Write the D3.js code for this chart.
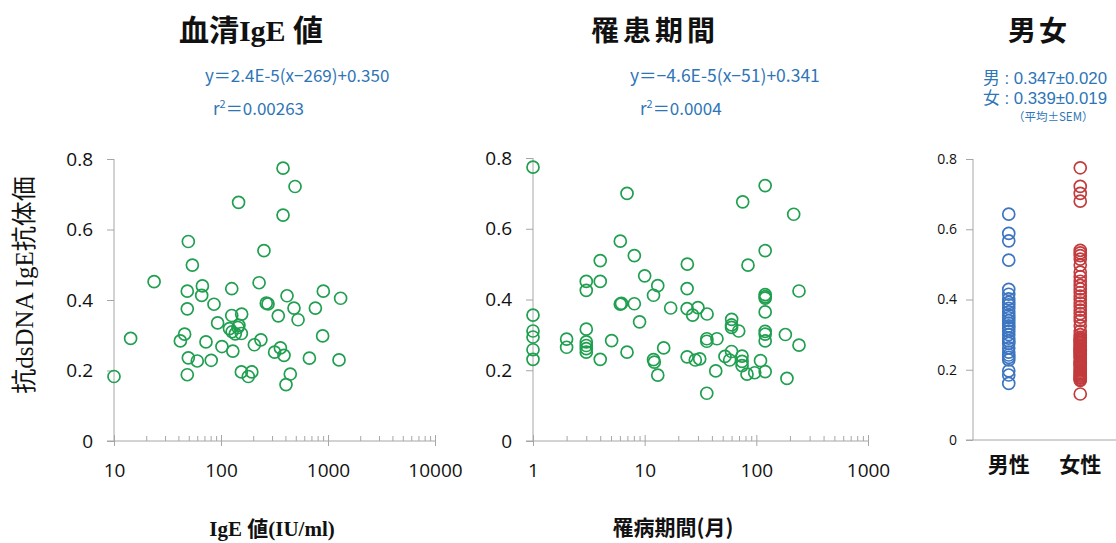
<html>
<head>
  <meta charset="utf-8">
  <title>抗dsDNA IgE抗体価</title>
  <style>
    body {
      margin: 0;
      padding: 0;
      background: #ffffff;
      overflow: hidden;
    }
    .cjk { font-family: 'Noto Sans CJK JP', sans-serif; }
    .serif { font-family: 'Liberation Serif', 'DejaVu Serif', serif; }
    .tick text { font-family: 'Open Sans', sans-serif; fill: #111; }
    .domain, .tick line { stroke: #a6a6a6; }
    .note { font-family: 'Noto Sans CJK JP', sans-serif; fill: #2e75b6; }
    .note2 { font-family: 'Liberation Sans', 'Noto Sans CJK JP', sans-serif; fill: #2e75b6; }
  </style>
  <script src="https://d3js.org/d3.v7.min.js"></script>
</head>
<body>
  <svg id="chart" width="1116" height="543"></svg>

  <script>
    // panel 1: serum IgE (IU/ml) vs anti-dsDNA IgE
    const igeX = [380, 492, 146, 380, 49.5, 252, 54, 23.7, 227, 67, 48.4, 126, 904, 66, 414, 1312, 86, 265, 275, 48.4, 481, 762,
      126, 156, 343, 525, 93, 147, 144, 120, 127, 136, 155, 45.7, 41.7, 14.3, 72.4, 236, 891, 102, 129, 205, 359, 317, 388, 49.5,
      60, 81, 670, 1268, 10, 48.4, 155, 194, 180, 444, 405];
    const igeY = [0.774, 0.722, 0.677, 0.641, 0.566, 0.540, 0.499, 0.452, 0.449, 0.440, 0.425, 0.432, 0.425, 0.413, 0.412, 0.405, 0.388, 0.391, 0.389, 0.375, 0.377, 0.377,
      0.356, 0.360, 0.355, 0.344, 0.335, 0.328, 0.322, 0.319, 0.310, 0.304, 0.305, 0.303, 0.284, 0.291, 0.281, 0.287, 0.298, 0.268, 0.255, 0.273, 0.264, 0.252, 0.243, 0.236,
      0.227, 0.229, 0.235, 0.230, 0.183, 0.188, 0.196, 0.196, 0.183, 0.190, 0.160];

    // panel 2: disease duration (months) vs anti-dsDNA IgE
    const durX = [1, 6.95, 120, 75.5, 216, 6.05, 120, 4.0, 8.08, 24.1, 84.2, 3, 3, 4, 10, 13.1, 12.0, 24, 241, 120, 120, 120, 6.05, 6.2, 8.08, 17.1, 24, 30, 36.2, 26.9, 60.1, 120, 1, 9.0,
      1, 1, 1, 1, 2, 2, 3, 3, 3, 3, 3, 4, 5.06, 6.95, 12, 12.2, 13.1, 14.8, 24, 28.4, 31.1, 36, 36, 44.4, 43.3, 36, 52.4, 60, 60, 69.5, 60, 57.7, 74.5, 74.5, 74.5,
      82.5, 96.7, 109, 120, 120, 120, 120, 182, 188, 241];
    const durY = [0.774, 0.700, 0.722, 0.676, 0.641, 0.565, 0.538, 0.510, 0.524, 0.500, 0.497, 0.451, 0.426, 0.451, 0.467, 0.439, 0.412, 0.431, 0.424, 0.414, 0.408, 0.404, 0.387, 0.389, 0.388, 0.376, 0.374, 0.377, 0.359, 0.356, 0.344, 0.365, 0.356, 0.337,
      0.311, 0.294, 0.258, 0.231, 0.288, 0.265, 0.316, 0.280, 0.270, 0.261, 0.251, 0.231, 0.284, 0.251, 0.230, 0.223, 0.186, 0.263, 0.238, 0.229, 0.232, 0.289, 0.282, 0.289, 0.198, 0.135, 0.239, 0.328, 0.321, 0.311, 0.253, 0.229, 0.240, 0.225, 0.213,
      0.189, 0.193, 0.227, 0.196, 0.310, 0.302, 0.283, 0.301, 0.177, 0.271];

    // panel 3: by sex
    const sexes = ['男性', '女性'];
    const maleVals = [0.643, 0.588, 0.567, 0.512, 0.429, 0.415, 0.402, 0.392, 0.385, 0.375, 0.365, 0.355, 0.348, 0.340, 0.333, 0.325,
      0.318, 0.310, 0.300, 0.290, 0.282, 0.275, 0.262, 0.250, 0.242, 0.235, 0.228, 0.197, 0.185, 0.161];
    const femaleVals = [0.775, 0.722, 0.702, 0.680, 0.540, 0.533, 0.525, 0.515, 0.498, 0.478, 0.465, 0.452, 0.440, 0.430, 0.420, 0.410,
      0.400, 0.390, 0.380, 0.370, 0.360, 0.350, 0.340, 0.325, 0.310, 0.300, 0.292, 0.288, 0.285, 0.282, 0.278, 0.274, 0.270, 0.266, 0.262,
      0.258, 0.255, 0.252, 0.248, 0.244, 0.240, 0.236, 0.232, 0.225, 0.222, 0.218, 0.214, 0.210, 0.205, 0.200, 0.196, 0.192, 0.188,
      0.185, 0.182, 0.178, 0.176, 0.172, 0.170, 0.131];

    const yTicks = [0, 0.2, 0.4, 0.6, 0.8];
    const igeTicks = [10, 100, 1000, 10000];
    const durTicks = [1, 10, 100, 1000];

    const svg = d3.select('#chart');

    // minor ticks 2..9 for each decade
    function logTicks(lo, hi) {
      const out = [];
      for (let d = lo; d < hi; d *= 10) {
        for (let k = 1; k < 10; k++) out.push(d * k);
      }
      out.push(hi);
      return out;
    }

    function yAxis(g, y, size) {
      g.call(d3.axisLeft(y).tickValues(yTicks).tickSize(7).tickPadding(size > 16 ? 14 : 9)
        .tickFormat(d => d === 0 ? '0' : d.toFixed(1)));
      g.selectAll('.tick text').attr('font-size', size);
      g.select('.domain').attr('d', `M0,${y(0)}V${y(0.8)}`);
    }

    function logXAxis(g, x, lo, hi, majors) {
      g.call(d3.axisBottom(x).tickValues(logTicks(lo, hi)).tickSizeOuter(0).tickPadding(17)
        .tickFormat(d => majors.includes(d) ? d : ''));
      g.selectAll('.tick line')
        .attr('y1', d => majors.includes(d) ? -6 : -5)
        .attr('y2', d => majors.includes(d) ? 5 : 0);
      g.selectAll('.tick text').attr('font-size', 19);
      const r = x.range();
      g.select('.domain').attr('d', `M${r[0] - 7},0H${r[1]}`);
    }

    function scatter(xs, ys, x, y, color) {
      svg.append('g').selectAll('circle')
        .data(xs.map((v, i) => [v, ys[i]]))
        .join('circle')
        .attr('cx', d => x(d[0]))
        .attr('cy', d => y(d[1]))
        .attr('r', 6)
        .attr('fill', 'none')
        .attr('stroke', color)
        .attr('stroke-width', 1.7);
    }

    // ---- panel 1
    const x1 = d3.scaleLog().domain([10, 10000]).range([114, 435]);
    const y1 = d3.scaleLinear().domain([0, 0.8]).range([441, 159]);
    svg.append('g').attr('transform', `translate(${x1(10)},0)`).call(g => yAxis(g, y1, 19));
    svg.append('g').attr('transform', `translate(0,${y1(0)})`).call(g => logXAxis(g, x1, 10, 10000, igeTicks));
    scatter(igeX, igeY, x1, y1, '#1f9f4f');

    // ---- panel 2
    const x2 = d3.scaleLog().domain([1, 1000]).range([533, 868]);
    const y2 = d3.scaleLinear().domain([0, 0.8]).range([441, 158]);
    svg.append('g').attr('transform', `translate(${x2(1)},0)`).call(g => yAxis(g, y2, 19));
    svg.append('g').attr('transform', `translate(0,${y2(0)})`).call(g => logXAxis(g, x2, 1, 1000, durTicks));
    scatter(durX, durY, x2, y2, '#1f9f4f');

    // ---- panel 3
    const x3 = d3.scalePoint().domain(sexes).range([973, 1116]).padding(0.5);
    const y3 = d3.scaleLinear().domain([0, 0.8]).range([440, 159]);
    svg.append('g').attr('transform', 'translate(973,0)').call(g => yAxis(g, y3, 14));
    svg.append('line').attr('x1', 966).attr('x2', 1116).attr('y1', y3(0)).attr('y2', y3(0)).attr('stroke', '#a6a6a6');
    scatter(maleVals.map(() => sexes[0]), maleVals, x3, y3, '#3d75c0');
    scatter(femaleVals.map(() => sexes[1]), femaleVals, x3, y3, '#c23b3d');
    svg.append('g').selectAll('text').data(sexes).join('text')
      .attr('class', 'cjk').attr('x', d => x3(d)).attr('y', 472)
      .attr('text-anchor', 'middle').attr('font-size', 21).attr('font-weight', 700).attr('fill', '#111')
      .text(d => d);

    // ---- titles
    const t1 = svg.append('text').attr('x', 251).attr('y', 41).attr('text-anchor', 'middle')
      .attr('font-size', 30).attr('font-weight', 700).attr('fill', '#111');
    t1.append('tspan').attr('class', 'cjk').text('血清');
    t1.append('tspan').attr('class', 'serif').text('IgE ');
    t1.append('tspan').attr('class', 'cjk').text('値');
    svg.append('text').attr('class', 'cjk').attr('x', 655).attr('y', 41).attr('text-anchor', 'middle')
      .attr('font-size', 28).attr('font-weight', 700).attr('letter-spacing', 4).attr('fill', '#111').text('罹患期間');
    svg.append('text').attr('class', 'cjk').attr('x', 1039).attr('y', 41).attr('text-anchor', 'middle')
      .attr('font-size', 28).attr('font-weight', 700).attr('letter-spacing', 3).attr('fill', '#111').text('男女');

    // ---- regression notes
    svg.append('text').attr('class', 'note').attr('x', 205).attr('y', 82).attr('font-size', 17)
      .text('y＝2.4E-5(x−269)+0.350');
    const r1 = svg.append('text').attr('class', 'note').attr('x', 213).attr('y', 115).attr('font-size', 17);
    r1.append('tspan').text('r');
    r1.append('tspan').attr('dy', -7).attr('font-size', 11).text('2');
    r1.append('tspan').attr('dy', 7).text('＝0.00263');

    svg.append('text').attr('class', 'note').attr('x', 630).attr('y', 82).attr('font-size', 17.5)
      .text('y＝−4.6E-5(x−51)+0.341');
    const r2 = svg.append('text').attr('class', 'note').attr('x', 640).attr('y', 115).attr('font-size', 17);
    r2.append('tspan').text('r');
    r2.append('tspan').attr('dy', -7).attr('font-size', 11).text('2');
    r2.append('tspan').attr('dy', 7).text('＝0.0004');

    svg.append('text').attr('class', 'note2').attr('x', 983).attr('y', 84).attr('font-size', 16.8)
      .text('男 : 0.347±0.020');
    svg.append('text').attr('class', 'note2').attr('x', 983).attr('y', 104).attr('font-size', 16.8)
      .text('女 : 0.339±0.019');
    svg.append('text').attr('class', 'note').attr('x', 1013).attr('y', 121).attr('font-size', 11.5)
      .attr('fill', '#2b5f95').text('（平均±SEM）');

    // ---- axis titles
    const yl = svg.append('text').attr('transform', 'translate(33,285) rotate(-90)')
      .attr('text-anchor', 'middle').attr('font-size', 25).attr('fill', '#111');
    yl.append('tspan').attr('class', 'cjk').text('抗');
    yl.append('tspan').attr('class', 'serif').text('dsDNA IgE');
    yl.append('tspan').attr('class', 'cjk').text('抗体価');

    const xl1 = svg.append('text').attr('x', 272).attr('y', 536).attr('text-anchor', 'middle')
      .attr('font-size', 21).attr('font-weight', 700).attr('fill', '#111');
    xl1.append('tspan').attr('class', 'serif').text('IgE ');
    xl1.append('tspan').attr('class', 'cjk').text('値');
    xl1.append('tspan').attr('class', 'serif').text('(IU/ml)');
    svg.append('text').attr('class', 'cjk').attr('x', 673).attr('y', 535).attr('text-anchor', 'middle')
      .attr('font-size', 21).attr('font-weight', 700).attr('fill', '#111').text('罹病期間(月)');
  </script>
</body>
</html>
